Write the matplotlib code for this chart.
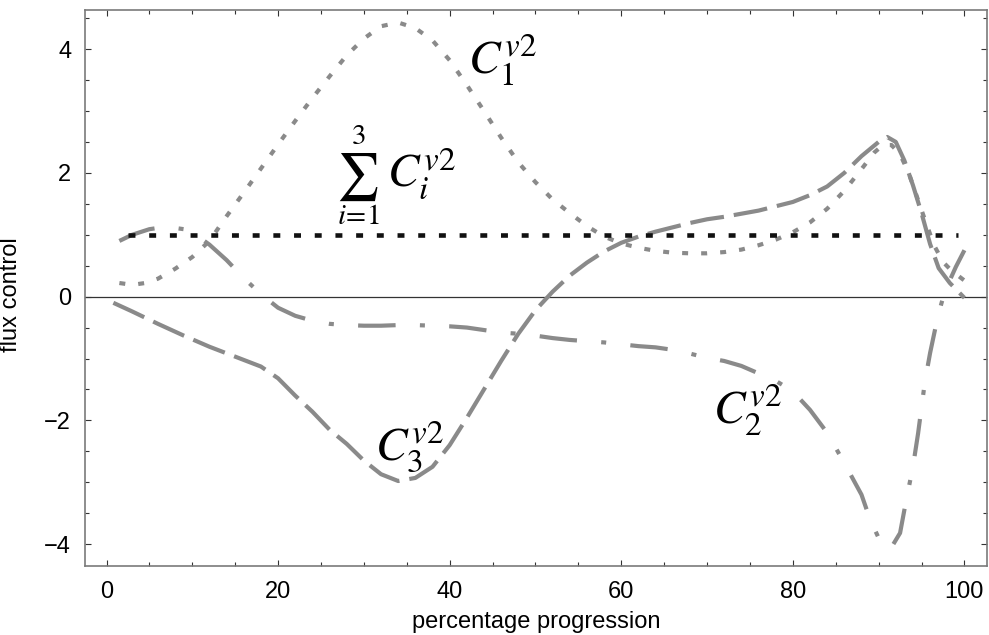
import matplotlib
matplotlib.use("Agg")
import matplotlib.pyplot as plt
from matplotlib.ticker import MultipleLocator

# ==========================================
# DATA
# ==========================================

c1_x = [1.5, 3, 4.5, 6, 8, 10, 12, 14, 16, 18, 20, 22, 24, 26, 28, 30, 32, 34,
        36, 38, 40, 42, 44, 46, 48, 50, 52, 54, 56, 58, 60, 62, 64, 66, 68, 70,
        72, 74, 76, 78, 80, 82, 84, 86, 88, 89.5, 90.5, 91.5, 92.5, 93.5, 94.5,
        95.5, 96.5, 97.5, 98.5, 100]
c1_y = [0.22, 0.19, 0.22, 0.29, 0.45, 0.64, 0.9, 1.3, 1.68, 2.07, 2.46, 2.84,
        3.21, 3.56, 3.9, 4.17, 4.37, 4.43, 4.34, 4.14, 3.82, 3.42, 3.0, 2.57,
        2.17, 1.85, 1.57, 1.35, 1.14, 0.97, 0.86, 0.79, 0.74, 0.71, 0.7, 0.7,
        0.72, 0.76, 0.83, 0.92, 1.04, 1.2, 1.42, 1.71, 2.06, 2.33, 2.45, 2.45,
        2.3, 2.0, 1.6, 1.2, 0.82, 0.56, 0.42, 0.26]

c2_x = [1.5, 3, 5, 7, 9, 10.5, 12, 14, 16, 18, 20, 22, 24, 26, 28, 30, 32, 34,
        36, 38, 40, 42, 44, 46, 48, 50, 52, 54, 56, 58, 60, 62, 64, 66, 68, 70,
        72, 74, 76, 78, 80, 82, 84, 86, 88, 89, 90, 90.8, 91.5, 92.5, 93.2, 94,
        94.6, 95.4, 96, 96.9, 97.7, 99, 100]
c2_y = [0.9, 1.0, 1.09, 1.13, 1.09, 0.99, 0.84, 0.59, 0.3, 0.04, -0.18, -0.31,
        -0.39, -0.44, -0.46, -0.47, -0.47, -0.46, -0.46, -0.47, -0.48, -0.5,
        -0.54, -0.58, -0.6, -0.63, -0.67, -0.7, -0.72, -0.74, -0.77, -0.8,
        -0.82, -0.86, -0.92, -0.99, -1.04, -1.12, -1.24, -1.36, -1.53, -1.83,
        -2.2, -2.69, -3.2, -3.6, -3.9, -4.07, -4.05, -3.82, -3.3, -2.75, -2.21,
        -1.37, -0.91, -0.32, 0.08, 0.48, 0.75]

c3_x = [0.8, 3, 6, 9, 12, 15, 18, 20, 22, 24, 26, 28, 30, 32, 34, 36, 38, 40,
        42, 44, 46, 48, 50, 52, 54, 56, 58, 60, 62, 64, 66, 68, 70, 72, 74, 76,
        78, 80, 82, 84, 86, 88, 90, 91, 92, 93, 94, 95, 96, 97, 98.3, 100]
c3_y = [-0.1, -0.24, -0.44, -0.63, -0.81, -0.97, -1.13, -1.32, -1.6, -1.86,
        -2.15, -2.38, -2.65, -2.87, -2.98, -2.93, -2.75, -2.4, -1.96, -1.5,
        -1.04, -0.6, -0.22, 0.08, 0.34, 0.55, 0.73, 0.87, 0.97, 1.05, 1.12,
        1.19, 1.25, 1.29, 1.34, 1.39, 1.46, 1.53, 1.64, 1.78, 2.0, 2.27, 2.5,
        2.58, 2.5, 2.2, 1.8, 1.35, 0.85, 0.46, 0.22, -0.02]

sum_x = [2.5, 99.2]
sum_y = [1.0, 1.0]

# ==========================================
# PLOT
# ==========================================

plt.rcParams["font.family"] = ["Liberation Sans", "DejaVu Sans"]
plt.rcParams["mathtext.fontset"] = "stix"
plt.rcParams["lines.scale_dashes"] = False

gray = "#8a8a8a"
spine_gray = "#7a7a7a"

fig = plt.figure(figsize=(9.89, 6.35), dpi=100)
ax = fig.add_axes([0.086, 0.109, 0.9117, 0.876])

ax.axhline(0, color="#333333", lw=0.9, zorder=1)

ax.plot(c1_x, c1_y, color=gray, lw=3.0, linestyle=(0, (4.3, 9.4)))
ax.plot(c2_x, c2_y, color=gray, lw=3.0,
        linestyle=(0, (27, 17.5, 3.6, 17.5)))
ax.plot(c3_x, c3_y, color=gray, lw=3.0, linestyle=(0, (24.5, 7.2)))
ax.plot(sum_x, sum_y, color="#111111", lw=3.3, linestyle=(0, (5.0, 9.9)))

# curve labels
ax.text(42.1, 3.61, r"$C_1^{v2}$", fontsize=34, ha="left", va="baseline")
ax.text(70.7, -2.05, r"$C_2^{v2}$", fontsize=34, ha="left", va="baseline")
ax.text(31.3, -2.64, r"$C_3^{v2}$", fontsize=34, ha="left", va="baseline")

ax.text(29.2, 1.93, r"$\sum$", fontsize=34, ha="center", va="center")
ax.text(29.4, 2.6, r"$3$", fontsize=21, ha="center", va="center")
ax.text(29.4, 1.3, r"$i\!=\!1$", fontsize=21, ha="center", va="center")
ax.text(32.7, 1.78, r"$C_i^{v2}$", fontsize=34, ha="left", va="baseline")

ax.set_xlim(-2.5, 102.6)
ax.set_ylim(-4.35, 4.64)

ax.xaxis.set_major_locator(MultipleLocator(20))
ax.xaxis.set_minor_locator(MultipleLocator(5))
ax.yaxis.set_major_locator(MultipleLocator(2))
ax.yaxis.set_minor_locator(MultipleLocator(0.5))

ax.tick_params(which="both", direction="in", top=True, right=True,
               color="#333333", labelsize=17)
ax.tick_params(which="major", length=4.5, width=0.8)
ax.tick_params(which="minor", length=3, width=0.8)
ax.tick_params(axis="x", which="major", pad=11)
ax.tick_params(axis="y", which="major", pad=10)

for s in ax.spines.values():
    s.set_color(spine_gray)
    s.set_linewidth(1.2)

ax.set_xlabel("percentage progression", fontsize=17)
ax.set_ylabel("flux control", fontsize=17)
ax.xaxis.set_label_coords(0.5, -0.082)
ax.yaxis.set_label_coords(-0.07, 0.488)

fig.savefig("out.png", dpi=100)
